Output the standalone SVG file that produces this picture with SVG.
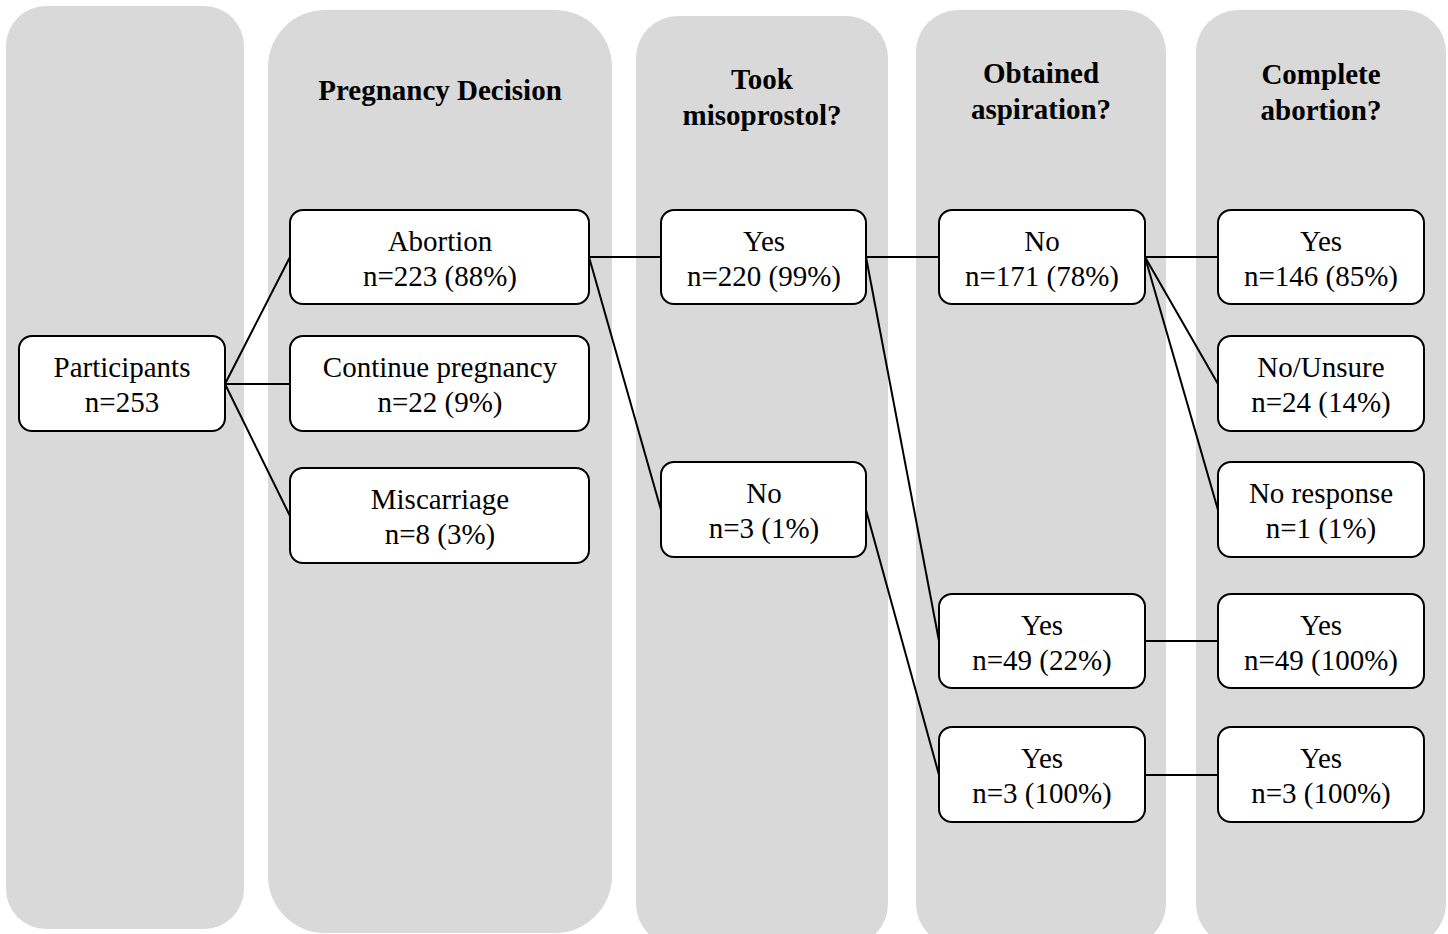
<svg xmlns="http://www.w3.org/2000/svg" width="1448" height="934" viewBox="0 0 1448 934">
<style>
.col{fill:#d9d9d9;}
.node rect{fill:#ffffff;stroke:#000000;stroke-width:2;}
.node text{font-family:"Liberation Serif","Times New Roman",serif;font-size:29px;fill:#000;text-anchor:middle;}
.hdr{font-family:"Liberation Serif","Times New Roman",serif;font-size:29px;font-weight:bold;fill:#000;text-anchor:middle;}
.conn line{stroke:#000;stroke-width:2;fill:none;}
</style>
<rect width="1448" height="934" fill="#ffffff"/>
<g id="columns">
<rect class="col" x="6" y="6" width="238" height="923" rx="40" ry="40"/>
<rect class="col" x="268" y="10" width="344" height="923" rx="57" ry="57"/>
<rect class="col" x="636" y="16" width="252" height="930" rx="42" ry="42"/>
<rect class="col" x="916" y="10" width="250" height="936" rx="42" ry="42"/>
<rect class="col" x="1196" y="10" width="250" height="936" rx="42" ry="42"/>
</g>
<g id="headers">
<text class="hdr" x="440" y="100">Pregnancy Decision</text>
<text class="hdr" x="762" y="89">Took</text>
<text class="hdr" x="762" y="125">misoprostol?</text>
<text class="hdr" x="1041" y="83">Obtained</text>
<text class="hdr" x="1041" y="119">aspiration?</text>
<text class="hdr" x="1321" y="84">Complete</text>
<text class="hdr" x="1321" y="120">abortion?</text>
</g>
<g id="connectors" class="conn">
<line x1="225" y1="384" x2="290" y2="257"/>
<line x1="225" y1="384" x2="290" y2="384"/>
<line x1="225" y1="384" x2="290" y2="516"/>
<line x1="589" y1="257" x2="661" y2="257"/>
<line x1="589" y1="257" x2="661" y2="510"/>
<line x1="866" y1="257" x2="939" y2="257"/>
<line x1="866" y1="257" x2="939" y2="641"/>
<line x1="866" y1="510" x2="939" y2="775"/>
<line x1="1145" y1="257" x2="1218" y2="257"/>
<line x1="1145" y1="257" x2="1218" y2="384"/>
<line x1="1145" y1="257" x2="1218" y2="510"/>
<line x1="1145" y1="641" x2="1218" y2="641"/>
<line x1="1145" y1="775" x2="1218" y2="775"/>
</g>
<g id="n-participants" class="node"><rect x="19" y="336" width="206" height="95" rx="13"/><text x="122" y="377">Participants</text><text x="122" y="412">n=253</text></g>
<g id="n-abortion" class="node"><rect x="290" y="210" width="299" height="94" rx="13"/><text x="440" y="251">Abortion</text><text x="440" y="286">n=223 (88%)</text></g>
<g id="n-continue" class="node"><rect x="290" y="336" width="299" height="95" rx="13"/><text x="440" y="377">Continue pregnancy</text><text x="440" y="412">n=22 (9%)</text></g>
<g id="n-miscarriage" class="node"><rect x="290" y="468" width="299" height="95" rx="13"/><text x="440" y="509">Miscarriage</text><text x="440" y="544">n=8 (3%)</text></g>
<g id="n-miso-yes" class="node"><rect x="661" y="210" width="205" height="94" rx="13"/><text x="764" y="251">Yes</text><text x="764" y="286">n=220 (99%)</text></g>
<g id="n-miso-no" class="node"><rect x="661" y="462" width="205" height="95" rx="13"/><text x="764" y="503">No</text><text x="764" y="538">n=3 (1%)</text></g>
<g id="n-asp-no" class="node"><rect x="939" y="210" width="206" height="94" rx="13"/><text x="1042" y="251">No</text><text x="1042" y="286">n=171 (78%)</text></g>
<g id="n-asp-yes49" class="node"><rect x="939" y="594" width="206" height="94" rx="13"/><text x="1042" y="635">Yes</text><text x="1042" y="670">n=49 (22%)</text></g>
<g id="n-asp-yes3" class="node"><rect x="939" y="727" width="206" height="95" rx="13"/><text x="1042" y="768">Yes</text><text x="1042" y="803">n=3 (100%)</text></g>
<g id="n-comp-yes146" class="node"><rect x="1218" y="210" width="206" height="94" rx="13"/><text x="1321" y="251">Yes</text><text x="1321" y="286">n=146 (85%)</text></g>
<g id="n-comp-unsure" class="node"><rect x="1218" y="336" width="206" height="95" rx="13"/><text x="1321" y="377">No/Unsure</text><text x="1321" y="412">n=24 (14%)</text></g>
<g id="n-comp-noresp" class="node"><rect x="1218" y="462" width="206" height="95" rx="13"/><text x="1321" y="503">No response</text><text x="1321" y="538">n=1 (1%)</text></g>
<g id="n-comp-yes49" class="node"><rect x="1218" y="594" width="206" height="94" rx="13"/><text x="1321" y="635">Yes</text><text x="1321" y="670">n=49 (100%)</text></g>
<g id="n-comp-yes3" class="node"><rect x="1218" y="727" width="206" height="95" rx="13"/><text x="1321" y="768">Yes</text><text x="1321" y="803">n=3 (100%)</text></g>
</svg>
